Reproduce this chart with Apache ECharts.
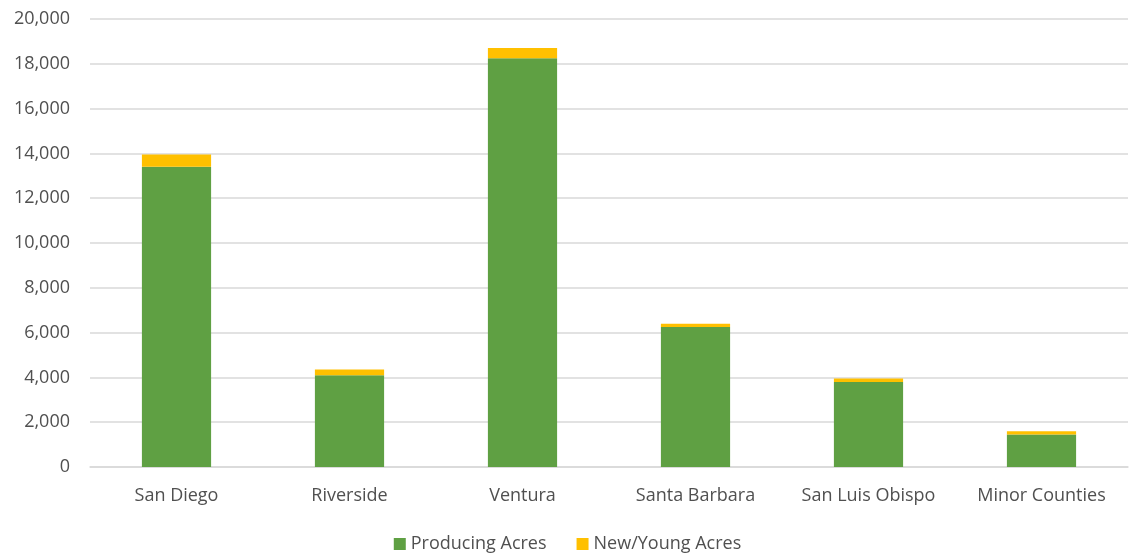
<!DOCTYPE html>
<html>
<head>
<meta charset="utf-8">
<script src="https://cdn.jsdelivr.net/npm/echarts@6/dist/echarts.min.js"></script>
<style>
  html, body { margin: 0; padding: 0; background: #fff; }
  #chart { width: 1135px; height: 558px; }
</style>
</head>
<body>
<div id="chart"></div>
<script>
const counties = ['San Diego', 'Riverside', 'Ventura', 'Santa Barbara', 'San Luis Obispo', 'Minor Counties'];
const producingAcres = [13400, 4100, 18250, 6250, 3800, 1450];
const newYoungAcres = [550, 250, 450, 150, 150, 150];

const chart = echarts.init(document.getElementById('chart'));
const font = "'Open Sans', sans-serif";

chart.setOption({
  animation: false,
  textStyle: { fontFamily: font },
  grid: { left: 90, right: 7, top: 19, bottom: 91 },
  legend: {
    bottom: 0,
    left: 'center',
    itemWidth: 12,
    itemHeight: 12,
    itemGap: 30,
    icon: 'rect',
    textStyle: { fontSize: 18, color: '#505050', fontFamily: font },
    data: ['Producing Acres', 'New/Young Acres']
  },
  xAxis: {
    type: 'category',
    data: counties,
    axisTick: { show: false },
    axisLine: { lineStyle: { color: '#d9d9d9', width: 1.5 } },
    axisLabel: { color: '#505050', fontSize: 18, margin: 20, interval: 0, fontFamily: font }
  },
  yAxis: {
    type: 'value',
    min: 0,
    max: 20000,
    interval: 2000,
    axisLabel: {
      color: '#505050',
      fontSize: 18,
      margin: 20,
      fontFamily: font,
      formatter: v => v.toLocaleString('en-US')
    },
    splitLine: { lineStyle: { color: '#d9d9d9', width: 1.5 } }
  },
  series: [
    {
      name: 'Producing Acres',
      type: 'bar',
      stack: 'acres',
      barWidth: '40%',
      itemStyle: { color: '#5FA043' },
      data: producingAcres
    },
    {
      name: 'New/Young Acres',
      type: 'bar',
      stack: 'acres',
      itemStyle: { color: '#FFC000' },
      data: newYoungAcres
    }
  ]
});
</script>
</body>
</html>
